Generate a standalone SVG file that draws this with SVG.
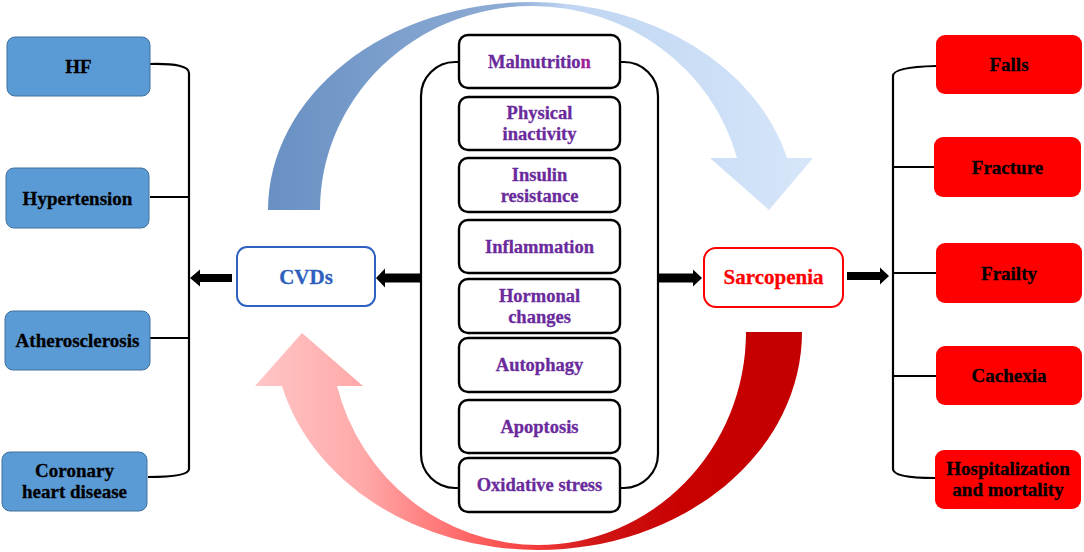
<svg xmlns="http://www.w3.org/2000/svg" width="1084" height="552" viewBox="0 0 1084 552">
<defs>
<linearGradient id="gTop" gradientUnits="userSpaceOnUse" x1="268" y1="0" x2="813" y2="0">
<stop offset="0" stop-color="#6890c3"/>
<stop offset="0.45" stop-color="#8fadd5"/>
<stop offset="0.55" stop-color="#bfd5f1"/>
<stop offset="1" stop-color="#d6e6fa"/>
</linearGradient>
<linearGradient id="gBot" gradientUnits="userSpaceOnUse" x1="255" y1="0" x2="802" y2="0">
<stop offset="0" stop-color="#ffc6c6"/>
<stop offset="0.2" stop-color="#ffa8a8"/>
<stop offset="0.4" stop-color="#ff6262"/>
<stop offset="0.52" stop-color="#f23a3a"/>
<stop offset="0.62" stop-color="#d01616"/>
<stop offset="0.78" stop-color="#c80000"/>
<stop offset="1" stop-color="#c40000"/>
</linearGradient>
</defs>
<style>
text{font-family:"Liberation Serif","Times New Roman",serif;font-weight:bold;text-anchor:middle;stroke-width:0.3}
.blue rect{fill:#5b9bd5;stroke:#41719c;stroke-width:1}
.red rect{fill:#ff0000}
.blk{font-size:19px;fill:#000;stroke:#000}
.mid rect{fill:#fff;stroke:#000;stroke-width:2.4}
.mid text{font-size:18.5px;fill:#6a2a9c;stroke:#6a2a9c}
.ln{fill:none;stroke:#000;stroke-width:2.2}
.ar{fill:#000}
</style>
<rect width="1084" height="552" fill="#fff"/>
<g id="connectors">
<path d="M268 210 A264 208 0 0 1 532 2 A264 208 0 0 1 787 158 L813 158 L769 210 L710 158 L737 158 A212 204 0 0 0 532 6 A212 204 0 0 0 320 210 Z" fill="url(#gTop)"/>
<path d="M802 332 A264 218 0 0 1 538 550 A264 218 0 0 1 282 386 L255 386 L302 333 L363 386 L337 386 A208 213 0 0 0 538 545 A208 213 0 0 0 746 332 Z" fill="url(#gBot)"/>
<path class="ln" d="M150 64 Q189 63 189 73 V469 Q189 477 148 477 M150 197 H189 M150 338 H189"/>
<path class="ln" d="M936 66 Q893 67 893 76 V469 Q893 478 935 478 M893 167 H934 M893 273 H936 M893 376 H936"/>
<path class="ln" d="M459 62 H455 A34 34 0 0 0 421 96 V454 A34 34 0 0 0 455 488 H459 M620 62 H624 A34 34 0 0 1 658 96 V454 A34 34 0 0 1 624 488 H620"/>
<polygon class="ar" points="232,274 200,274 200,269.5 190,278 200,286.5 200,282 232,282"/>
<polygon class="ar" points="420,273.5 385,273.5 385,268.5 376,278 385,287.5 385,282.5 420,282.5"/>
<polygon class="ar" points="658,273.5 693,273.5 693,269.5 702,278 693,286.5 693,282.5 658,282.5"/>
<polygon class="ar" points="847,272 880,272 880,267.5 889,276 880,284.5 880,280 847,280"/>
</g>
<g id="hf" class="blue"><rect x="7" y="37" width="143" height="59" rx="8"/><text class="blk" x="78.5" y="73">HF</text></g>
<g id="hypertension" class="blue"><rect x="6" y="168" width="143" height="60" rx="8"/><text class="blk" x="77.5" y="204.5">Hypertension</text></g>
<g id="atherosclerosis" class="blue"><rect x="5" y="311" width="145" height="59" rx="8"/><text class="blk" x="77.5" y="347">Atherosclerosis</text></g>
<g id="chd" class="blue"><rect x="2" y="452" width="145" height="59" rx="8"/><text class="blk" x="74.5" y="477">Coronary</text><text class="blk" x="74.5" y="498">heart disease</text></g>
<g id="cvds"><rect x="237" y="247" width="138" height="59" rx="10" fill="#fff" stroke="#2f62c0" stroke-width="2"/><text x="306" y="284" font-size="21" fill="#2f5fbe" stroke="#2f5fbe">CVDs</text></g>
<g id="sarcopenia"><rect x="704" y="248" width="139" height="59" rx="12" fill="#fff" stroke="#ff0000" stroke-width="2"/><text x="773.5" y="284" font-size="21" fill="#ff0000" stroke="#ff0000">Sarcopenia</text></g>
<g id="malnutrition" class="mid"><rect x="459" y="35" width="161" height="53" rx="9"/><text x="539.5" y="68">Malnutritio<tspan fill="#a0209a" stroke="#a0209a">n</tspan></text></g>
<g id="physical-inactivity" class="mid"><rect x="459" y="97" width="161" height="53" rx="9"/><text x="539.5" y="119">Physical</text><text x="539.5" y="140">inactivity</text></g>
<g id="insulin-resistance" class="mid"><rect x="459" y="158" width="161" height="54" rx="9"/><text x="539.5" y="181">Insulin</text><text x="539.5" y="202">resistance</text></g>
<g id="inflammation" class="mid"><rect x="459" y="220" width="161" height="53" rx="9"/><text x="539.5" y="253">Inflammation</text></g>
<g id="hormonal-changes" class="mid"><rect x="459" y="279" width="161" height="54" rx="9"/><text x="539.5" y="301.5">Hormonal</text><text x="539.5" y="322.5">changes</text></g>
<g id="autophagy" class="mid"><rect x="459" y="338" width="161" height="54" rx="9"/><text x="539.5" y="371">Autophagy</text></g>
<g id="apoptosis" class="mid"><rect x="459" y="400" width="161" height="53" rx="9"/><text x="539.5" y="433">Apoptosis</text></g>
<g id="oxidative-stress" class="mid"><rect x="459" y="458" width="161" height="54" rx="9"/><text x="539.5" y="491">Oxidative stress</text></g>
<g id="falls" class="red"><rect x="936" y="35" width="146" height="59" rx="9"/><text class="blk" x="1009" y="71">Falls</text></g>
<g id="fracture" class="red"><rect x="934" y="137" width="147" height="60" rx="9"/><text class="blk" x="1007.5" y="173.5">Fracture</text></g>
<g id="frailty" class="red"><rect x="936" y="243" width="146" height="60" rx="9"/><text class="blk" x="1009" y="279.5">Frailty</text></g>
<g id="cachexia" class="red"><rect x="936" y="346" width="146" height="59" rx="9"/><text class="blk" x="1009" y="382">Cachexia</text></g>
<g id="hospitalization" class="red"><rect x="935" y="450" width="146" height="59" rx="9"/><text class="blk" x="1008" y="475">Hospitalization</text><text class="blk" x="1008" y="496">and mortality</text></g>
</svg>
